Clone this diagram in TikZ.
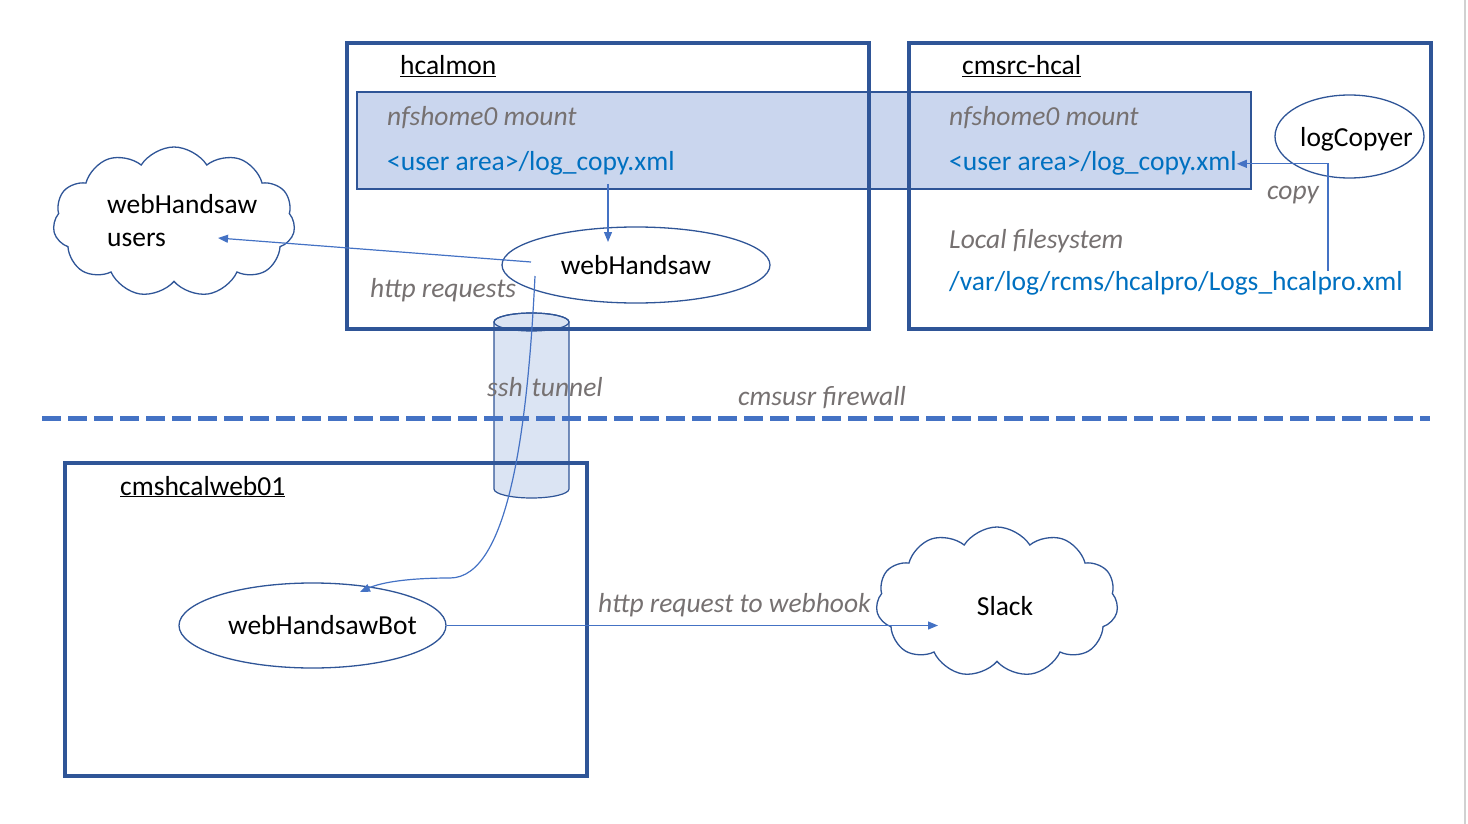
\documentclass[tikz,border=0pt]{standalone}
\usepackage{fontspec}
\setmainfont{Carlito}
\usetikzlibrary{shapes.geometric,shapes.symbols,arrows.meta,calc,positioning}
\definecolor{hostblue}{HTML}{2F5597}
\definecolor{linkblue}{HTML}{4472C4}
\definecolor{mountfill}{HTML}{CAD6EE}
\definecolor{tubefill}{HTML}{D5DFF1}
\definecolor{fileblue}{HTML}{0070C0}
\definecolor{notegray}{HTML}{767171}

\begin{document}
\begin{tikzpicture}[x=1pt,y=-1pt,font=\fontsize{27.5}{33}\selectfont]
    \tikzstyle{host}=[rectangle,draw=hostblue,line width=4pt,minimum width=522pt,inner sep=0pt]
    \tikzstyle{proc}=[ellipse,draw=hostblue,line width=1.3pt,inner sep=0pt]
    \tikzstyle{crowd}=[cloud,cloud puffs=11,cloud puff arc=115,draw=hostblue,line width=1.3pt,inner sep=0pt,minimum width=242pt,minimum height=150pt]
    \tikzstyle{title}=[anchor=base west,inner sep=0pt]
    \tikzstyle{note}=[anchor=base west,inner sep=0pt,text=notegray,font=\fontsize{27.5}{33}\selectfont\itshape]
    \tikzstyle{file}=[anchor=base west,inner sep=0pt,text=fileblue]
    \tikzstyle{link}=[draw=linkblue,line width=1.2pt,-{Triangle[length=10pt,width=8pt]}]
    \tikzstyle{tubeend}=[x radius=37.5pt,y radius=9pt]

    \useasboundingbox (0,0) rectangle (1468,824);
    \draw[black!18,line width=2pt] (1465,0) -- (1465,824);

    % shared mount and ssh tunnel, behind the hosts
    \node[rectangle,draw=hostblue,line width=1.8pt,fill=mountfill,minimum width=894pt,minimum height=97pt] (mount) at (804,140.5) {};
    \filldraw[draw=hostblue,line width=1.2pt,fill=tubefill,fill opacity=0.85]
        (494,322) -- (494,489) arc[start angle=180,end angle=360,tubeend] -- (569,322)
        arc[start angle=0,end angle=180,tubeend] -- cycle;
    \draw[hostblue,line width=1.2pt] (531.5,322) ellipse[tubeend];

    \node[host,minimum height=286pt] (hcalmon) at (607.5,186) {};
    \node[host,minimum height=286pt] (cmsrc) at (1170,186) {};
    \node[host,minimum height=313pt] (web01) at (326,619.5) {};

    % firewall
    \draw[linkblue,line width=5pt,dash pattern=on 19pt off 7pt] (42,418) -- (1430,418);

    \node[title] (hcalmon-t) at (400,75) {\underline{hcalmon}};
    \node[title] (cmsrc-t) at (962,75) {\underline{cmsrc-hcal}};
    \node[title] (web01-t) at (120,495) {\underline{cmshcalweb01}};

    \foreach \host/\x in {A/387, B/949}{
        \node[note] (mount-\host) at (\x,126) {nfshome0 mount};
        \node[file] (user-\host) at (\x,171) {<user area>/log\_copy.xml};
    }
    \node[note] (local) at (949,248) {Local filesystem};
    \node[file] (varlog) at (949,290) {/var/log/rcms/hcalpro/Logs\_hcalpro.xml};

    \node[proc,minimum width=268pt,minimum height=76pt] (wh) at (636,265) {webHandsaw};
    \node[proc,minimum width=267pt,minimum height=85pt,label={[inner sep=0pt,xshift=10pt]center:webHandsawBot}] (bot) at (312.5,625.5) {};
    \node[proc,minimum width=149pt,minimum height=83pt,label={[inner sep=0pt,xshift=7pt,yshift=-3pt]center:logCopyer}] (logc) at (1349.5,136.5) {};
    \node[crowd] (users) at (174,222) {};
    \node[title,align=left] (users-t) at (107,246) {webHandsaw\\users};
    \node[crowd,label={[inner sep=0pt,xshift=8pt,yshift=-4pt]center:Slack}] (slack) at (997,602) {};

    \node[note,anchor=base] (copy) at (1293,200) {copy};
    \node[note] (http) at (370,297) {http requests};
    \node[note] (ssh) at (487,396) {ssh\hspace{9pt}tunnel};
    \node[note] (fw) at (738,405) {cmsusr firewall};
    \node[note] (hook) at (598,612) {http request to webhook};

    % connectors
    \coordinate (wh-in) at ($(wh.center)+(-28,-23)$);
    \draw[link] ($(mount.south -| wh-in)+(0,-6)$) -- (wh-in);
    \draw[link] ($(wh.center)+(-105,-3)$) -- ($(users.center)+(44,16)$);
    \draw[link] ($(wh.center)+(-101,11)$) .. controls +(-7,144) and +(60,0) .. ($(bot.center)+(137.5,-47.5)$) .. controls +(-40,0) and +(22,-10) .. ($(bot.center)+(47.5,-33.5)$);
    \coordinate (cp) at ($(logc.center)+(-21.5,0)$);
    \draw[link] (cp |- varlog.north) |- (user-B.east);
    \coordinate (slack-in) at ($(slack.center)+(-59,23)$);
    \draw[link] (bot.east) -- (bot.east -| slack-in);
\end{tikzpicture}
\end{document}
